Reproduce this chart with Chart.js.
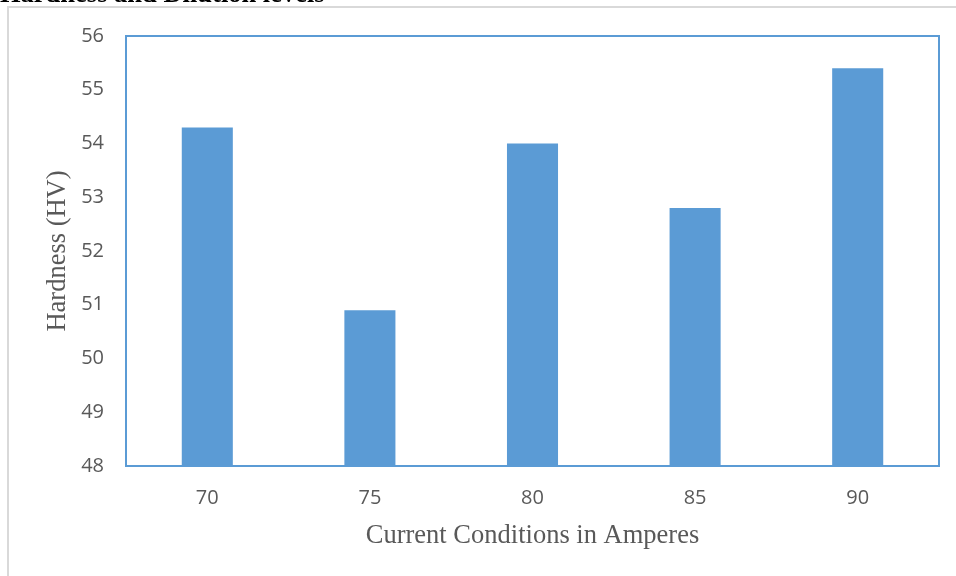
<!DOCTYPE html>
<html>
<head>
<meta charset="utf-8">
<script src="https://cdn.jsdelivr.net/npm/chart.js@4.4.0/dist/chart.umd.min.js"></script>
<style>
  html, body { margin: 0; padding: 0; background: #fff; overflow: hidden; }
  #frame { position: absolute; left: 7px; top: 6px; width: 1000px; height: 1000px; border: 2px solid #d9d9d9; }
  #wrap { position: absolute; left: 0; top: 0; width: 956px; height: 576px; }
</style>
</head>
<body>
<div id="frame"></div>
<div id="wrap"><canvas id="chart" width="956" height="576"></canvas></div>
<script>
const title = "Hardness and Dilution levels";
const currents = ["70", "75", "80", "85", "90"];
const hardness = [54.3, 50.9, 54.0, 52.8, 55.4];
const yMin = 48, yMax = 56, yStep = 1;

const blue = "#5b9bd5";
const grey = "#595959";

// cadre du graphique + titre coupé en haut
const extras = {
  id: "extras",
  afterDraw(chart) {
    const { ctx, chartArea: a } = chart;
    ctx.save();
    ctx.strokeStyle = blue;
    ctx.lineWidth = 2;
    ctx.strokeRect(a.left, a.top, a.right - a.left, a.bottom - a.top);
    ctx.fillStyle = "#000";
    ctx.font = "bold 26.5px 'Liberation Serif', serif";
    ctx.textBaseline = "alphabetic";
    ctx.fillText(title, 0, 2);
    ctx.restore();
  }
};

new Chart(document.getElementById("chart"), {
  type: "bar",
  data: {
    labels: currents,
    datasets: [{
      data: hardness,
      backgroundColor: blue,
      barPercentage: 0.314,
      categoryPercentage: 1
    }]
  },
  options: {
    responsive: false,
    animation: false,
    layout: { padding: { top: 36, right: 17, left: 0, bottom: 0 } },
    plugins: { legend: { display: false }, tooltip: { enabled: false } },
    scales: {
      x: {
        grid: { display: false, drawTicks: false },
        border: { display: true, color: blue, width: 2 },
        ticks: { color: grey, font: { family: "'Open Sans', sans-serif", size: 20 }, padding: 20 },
        title: {
          display: true,
          text: "Current Conditions in Amperes",
          color: grey,
          font: { family: "'Liberation Serif', serif", size: 26.5 },
          padding: { top: 0, bottom: 24 }
        },
        afterFit(s) { s.height = 110; }
      },
      y: {
        min: yMin,
        max: yMax,
        grid: { display: false, drawTicks: false },
        border: { display: true, color: blue, width: 2 },
        ticks: { stepSize: yStep, color: grey, font: { family: "'Open Sans', sans-serif", size: 20 }, padding: 22 },
        title: {
          display: true,
          text: "Hardness (HV)",
          color: grey,
          font: { family: "'Liberation Serif', serif", size: 26.5 },
          padding: { top: 42, bottom: 0 }
        },
        afterFit(s) { s.width = 126; }
      }
    }
  },
  plugins: [extras]
});
</script>
</body>
</html>
